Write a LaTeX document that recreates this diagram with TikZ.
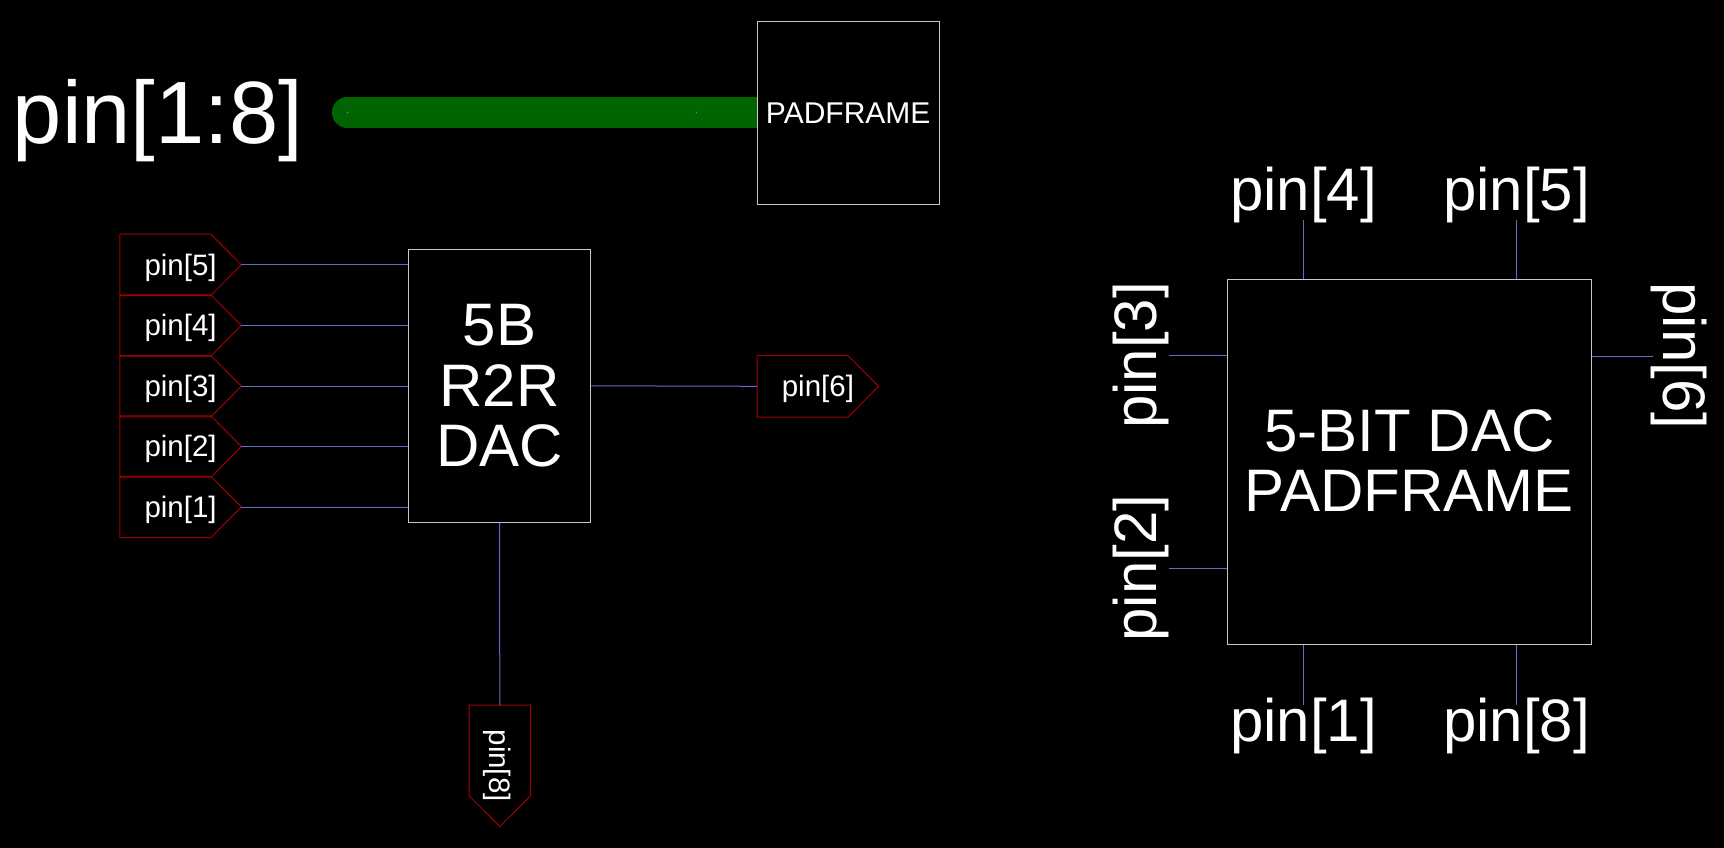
\documentclass[tikz,border=0pt]{standalone}
\usepackage{fontspec}
\setmainfont{Liberation Sans}
\usetikzlibrary{calc}
\definecolor{wirecol}{RGB}{105,105,205}
\definecolor{flagcol}{RGB}{160,0,0}
\definecolor{buscol}{RGB}{0,100,0}
\definecolor{boxcol}{RGB}{200,200,200}
\definecolor{markcol}{RGB}{70,160,120}
\newcommand{\pxfont}[1]{\fontsize{#1}{60.5}\selectfont}
\tikzset{
  wire/.style={draw=wirecol,line width=1pt},
  bus/.style={draw=buscol,line width=31pt},
  blockbox/.style={draw=boxcol,line width=1pt,fill=black,inner sep=0pt,align=center,text=white,text depth=0pt},
  flag/.style={minimum width=121pt,minimum height=61pt,inner sep=0pt,text=white,font=\pxfont{29.5},
    text height=26pt,text depth=5.3pt},
  flagline/.style={draw=flagcol,line width=1pt},
  pinlabel/.style={text=white,inner sep=0pt,font=\pxfont{60}},
  toplabel/.style={text=white,inner sep=0pt,font=\pxfont{88.5}}
}
\begin{document}
\begin{tikzpicture}[x=1pt,y=-1pt]
\useasboundingbox (0,0) rectangle (1724,848);
\fill[black] (0,0) rectangle (1724,848);

% top bus
\node[toplabel,anchor=base] (busname) at (158,143) {pin[1:8]};
\node[blockbox,minimum width=182pt,minimum height=182pt,font=\pxfont{30}] (frame) at (848.2,113) {PADFRAME};
\coordinate (busstart) at (347.5,112.5);
\coordinate (busmark) at (696.3,112.7);
\fill[buscol] (busstart) circle (15.5pt);
\draw[bus] (busstart) -- (busstart -| frame.west);
\fill[markcol] (busstart) circle (0.8pt);
\fill[markcol] (busmark) circle (0.8pt);

% DAC
\node[blockbox,minimum width=182.7pt,minimum height=273pt,font=\pxfont{60}] (dac) at (499.6,385.8) {5B\\R2R\\DAC};
\node[flag] (p5) at (180.6,264.8) {pin[5]};
\node[flag] (p4) at (180.6,325.5) {pin[4]};
\node[flag] (p3) at (180.6,386.2) {pin[3]};
\node[flag] (p2) at (180.6,446.5) {pin[2]};
\node[flag] (p1) at (180.6,507) {pin[1]};
\node[flag] (p6) at (817.9,386.3) {pin[6]};
\node[flag,rotate=-90] (p8) at (499.8,765.7) {pin[8]};
\foreach \n in {p5,p4,p3,p2,p1,p6,p8}{
  \draw[flagline] (\n.north west)
    -- ($(\n.north east)!30.5pt!(\n.north west)$)
    -- (\n.east)
    -- ($(\n.south east)!30.5pt!(\n.south west)$)
    -- (\n.south west) -- cycle;
}
\foreach \n in {p5,p4,p3,p2,p1}{
  \draw[wire] (\n.east) -- (\n.east -| dac.west);
}
\draw[wire] (dac.east) -- (p6.west);
\draw[wire] (dac.south) -- (p8.west);

% padframe block
\node[blockbox,text depth=3pt,minimum width=364pt,minimum height=364.6pt,font=\pxfont{60}] (pad) at (1409.4,462) {5-BIT DAC\\PADFRAME};
\node[pinlabel,anchor=base] (t4) at (1303.5,210.5) {pin[4]};
\node[pinlabel,anchor=base] (t5) at (1516.5,210.5) {pin[5]};
\node[pinlabel,anchor=base] (t1) at (1303.5,741.5) {pin[1]};
\node[pinlabel,anchor=base] (t8) at (1516.5,741.5) {pin[8]};
\node[pinlabel,anchor=base,rotate=90] (t3) at (1156.5,355.5) {pin[3]};
\node[pinlabel,anchor=base,rotate=90] (t2) at (1156.5,568) {pin[2]};
\node[pinlabel,anchor=base,rotate=-90] (t6) at (1663,356) {pin[6]};
\draw[wire] ([yshift=3pt]t4.south) -- (t4.south |- pad.north);
\draw[wire] ([yshift=3pt]t5.south) -- (t5.south |- pad.north);
\draw[wire] ([yshift=-7pt]t1.north) -- (t1.north |- pad.south);
\draw[wire] ([yshift=-7pt]t8.north) -- (t8.north |- pad.south);
\draw[wire] (t3.south) -- (t3.south -| pad.west);
\draw[wire] (t2.south) -- (t2.south -| pad.west);
\draw[wire] ([xshift=3pt]t6.south) -- (t6.south -| pad.east);
\end{tikzpicture}
\end{document}
